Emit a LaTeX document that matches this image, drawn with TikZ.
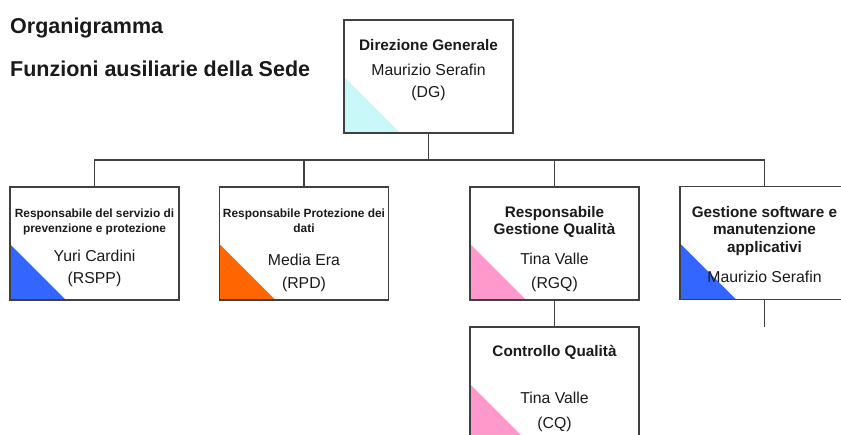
\documentclass[tikz,border=0pt]{standalone}
\usepackage{fontspec}
\setmainfont{Liberation Sans}
\definecolor{linegray}{HTML}{404040}
\definecolor{txt}{HTML}{1A1A1A}
\definecolor{dgc}{HTML}{C8F8F8}
\definecolor{bluef}{HTML}{3366FF}
\definecolor{orangef}{HTML}{FF6600}
\definecolor{pinkf}{HTML}{FF99CC}
\begin{document}
\begin{tikzpicture}[x=1pt,y=-1pt,
  box/.style={draw=linegray, line width=1.8pt, minimum width=169pt, minimum height=113pt, inner sep=0pt, fill=white},
  conn/.style={draw=linegray, line width=1.8pt},
  ttl/.style={font=\fontsize{21.5}{24}\selectfont\bfseries, anchor=base west, inner sep=0pt, text=txt},
  hdr/.style={font=\fontsize{15.3}{17}\selectfont\bfseries, anchor=base, inner sep=0pt, text=txt},
  nm/.style={font=\fontsize{15.8}{18}\selectfont, anchor=base, inner sep=0pt, text=txt},
  sm/.style={font=\fontsize{11.9}{14}\selectfont\bfseries, anchor=base, inner sep=0pt, text=txt},
  tri/.style={path picture={\fill[#1] (path picture bounding box.south west) -- ++(0pt,56pt) -- ++(56pt,-56pt) -- cycle;}}
]
\useasboundingbox (0,0) rectangle (841,434);
\clip (0,0) rectangle (841,434);

% boxes
\node[box, tri=dgc] (dg) at (428.5,76.5) {};
\node[box, tri=bluef] (rspp) at (94.5,243.5) {};
\node[box, tri=orangef] (rpd) at (304,243.5) {};
\node[box, tri=pinkf] (rgq) at (554.5,243.5) {};
\node[box, tri=bluef] (sw) at (764.5,243) {};
\node[box, tri=pinkf] (cq) at (554.5,383.5) {};

% connectors
\coordinate (bus) at (428.5,160);
\coordinate (swend) at (764.5,327);
\draw[conn] (dg.south) -- (bus);
\draw[conn] (rspp.north) |- (bus) -| (sw.north);
\draw[conn] (rpd.north) -- (rpd.north |- bus);
\draw[conn] (rgq.north) -- (rgq.north |- bus);
\draw[conn] (rgq.south) -- (cq.north);
\draw[conn] (sw.south) -- (swend);

% titles
\node[ttl] (t1) at (10,33) {Organigramma};
\node[ttl] (t2) at (10,76) {Funzioni ausiliarie della Sede};

% DG
\node[hdr] (dg1) at (428.5,50) {Direzione Generale};
\node[nm] (dg2) at (428.5,75) {Maurizio Serafin};
\node[nm] (dg3) at (428.5,97) {(DG)};

% RSPP
\node[sm] (rs1) at (94.5,217) {Responsabile del servizio di};
\node[sm] (rs2) at (94.5,232) {prevenzione e protezione};
\node[nm] (rs3) at (94.5,261) {Yuri Cardini};
\node[nm] (rs4) at (94.5,283) {(RSPP)};

% RPD
\node[sm] (rp1) at (304,217) {Responsabile Protezione dei};
\node[sm] (rp2) at (304,232) {dati};
\node[nm] (rp3) at (304,265) {Media Era};
\node[nm] (rp4) at (304,288) {(RPD)};

% RGQ
\node[hdr] (rg1) at (554.5,217) {Responsabile};
\node[hdr] (rg2) at (554.5,234) {Gestione Qualità};
\node[nm] (rg3) at (554.5,264) {Tina Valle};
\node[nm] (rg4) at (554.5,288) {(RGQ)};

% Software
\node[hdr] (sw1) at (764.5,217) {Gestione software e};
\node[hdr] (sw2) at (764.5,234) {manutenzione};
\node[hdr] (sw3) at (764.5,252) {applicativi};
\node[nm] (sw4) at (764.5,282) {Maurizio Serafin};

% CQ
\node[hdr] (cq1) at (554.5,356) {Controllo Qualità};
\node[nm] (cq2) at (554.5,403) {Tina Valle};
\node[nm] (cq3) at (554.5,428) {(CQ)};
\end{tikzpicture}
\end{document}
